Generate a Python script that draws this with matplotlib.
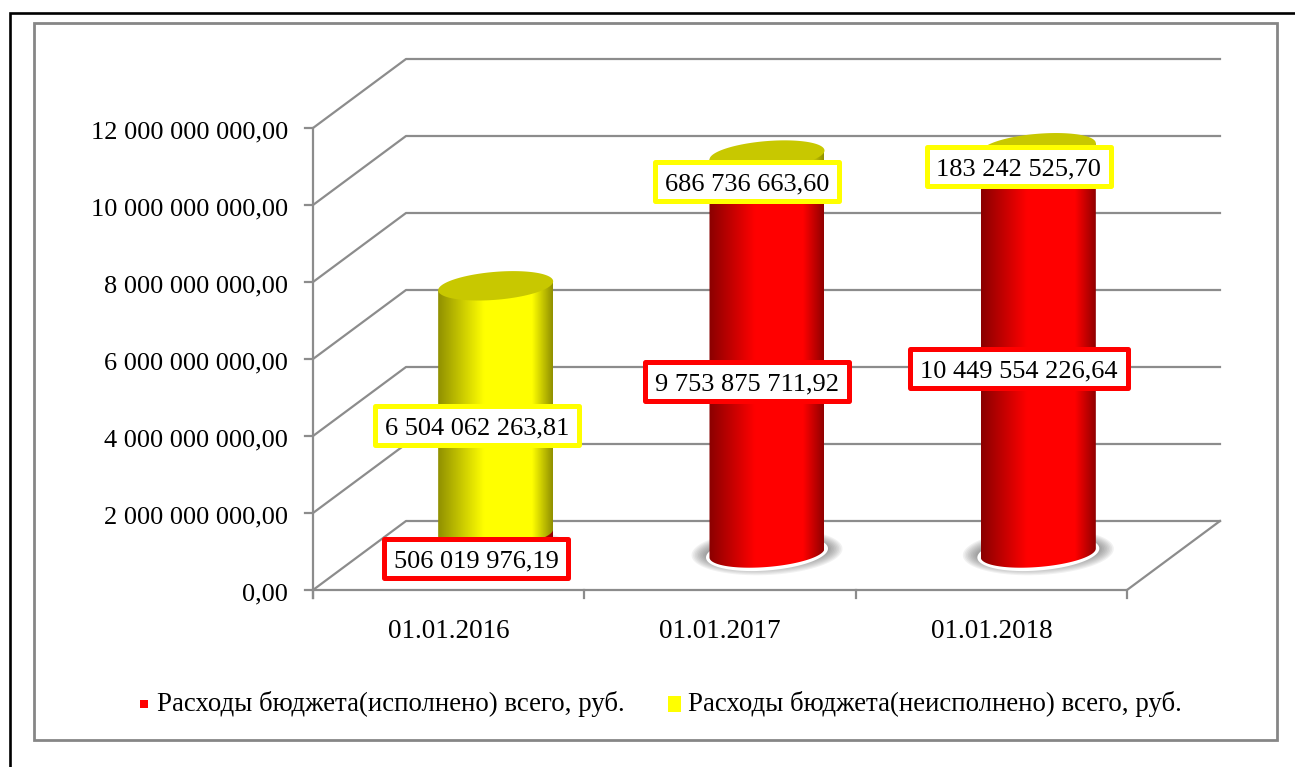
import matplotlib
matplotlib.use("Agg")
import matplotlib.pyplot as plt
import numpy as np
from matplotlib.patches import Polygon, Rectangle
from matplotlib.colors import LinearSegmentedColormap

dates = ["01.01.2016", "01.01.2017", "01.01.2018"]
spent = [506019976.19, 9753875711.92, 10449554226.64]
unspent = [6504062263.81, 686736663.60, 183242525.70]
spent_labels = ["506 019 976,19", "9 753 875 711,92", "10 449 554 226,64"]
unspent_labels = ["6 504 062 263,81", "686 736 663,60", "183 242 525,70"]
y_ticks = [0, 2e9, 4e9, 6e9, 8e9, 10e9, 12e9]
y_tick_labels = ["0,00", "2 000 000 000,00", "4 000 000 000,00", "6 000 000 000,00",
                 "8 000 000 000,00", "10 000 000 000,00", "12 000 000 000,00"]
legend_names = ["Расходы бюджета(исполнено) всего, руб.", "Расходы бюджета(неисполнено) всего, руб."]

W, H = 1295, 767
GREY = "#8c8c8c"
plt.rcParams["font.family"] = ["Liberation Serif", "DejaVu Serif"]

fig = plt.figure(figsize=(W / 100, H / 100), dpi=100)
ax = fig.add_axes([0, 0, 1, 1])

# one category = 271.33 px, 1e9 rub = 38.5 px, origin at pixel (313, 590)
px_x = 271.33
px_y = 38.5 / 1e9
ax.set_xlim(-313 / px_x, (W - 313) / px_x)
ax.set_ylim(-(H - 590) / px_y, 590 / px_y)
ax.axis("off")

def dx(p):
    return p / px_x

def dy(p):
    return p / px_y

def X(p):
    return (p - 313) / px_x

def Y(p):
    return (590 - p) / px_y

depth_x, depth_y = dx(93), dy(69)
lw = 1.6

# frames
ax.plot([X(10), X(10), X(W)], [Y(H), Y(13), Y(13)], color="black", lw=1.9, solid_joinstyle="miter", zorder=1)
ax.add_patch(Rectangle((X(34), Y(740)), dx(1243), dy(717), fc="none", ec="#868686", lw=2, zorder=1))

# walls and floor
for v in y_ticks:
    ax.plot([dx(-8), 0, depth_x, 3 + depth_x], [v, v, v + depth_y, v + depth_y], color=GREY, lw=lw, zorder=2)
ax.plot([0, 0], [dy(-8), 12e9], color=GREY, lw=lw, zorder=2)
ax.plot([0, 3, 3 + depth_x], [0, 0, depth_y], color=GREY, lw=lw, zorder=2)
for i in range(4):
    ax.plot([i, i], [dy(-8), 0], color=GREY, lw=lw, zorder=2)
for v, s in zip(y_ticks, y_tick_labels):
    ax.text(dx(-25), v - dy(4), s, ha="right", va="center", fontsize=19, color="black", zorder=6)
for i, d in enumerate(dates):
    ax.text(i + 0.5, Y(632), d, ha="center", va="center", fontsize=19.5, color="black", zorder=6)

# cylinders
red_map = LinearSegmentedColormap.from_list("r", [(0, "#8a0000"), (0.4, "#ff0000"), (0.82, "#ff0000"), (1, "#900000")])
yellow_map = LinearSegmentedColormap.from_list("y", [(0, "#909000"), (0.4, "#ffff00"), (0.82, "#ffff00"), (1, "#909000")])
grad = np.linspace(0, 1, 256).reshape(1, -1)
half_w = dx(57.5)
b = dy(14)
skew = dy(4.5)
t = np.linspace(0, 2 * np.pi, 121)
bar_scale = 0.99  # cylinders sit a bit deeper than the front axis plane

def ring(cx, cy, grow=0.0):
    return np.column_stack([cx + (half_w + dx(grow)) * np.cos(t),
                            cy + (b + dy(grow)) * np.sin(t) + skew * np.cos(t)])

def cylinder(cx, y0, y1, cmap, z):
    low = t[(t >= np.pi)]
    front = np.column_stack([cx + half_w * np.cos(low), y0 + b * np.sin(low) + skew * np.cos(low)])
    up = np.linspace(0, np.pi, 60)
    back = np.column_stack([cx + half_w * np.cos(up), y1 + skew * np.cos(up)])
    clip = Polygon(np.vstack([front, back]), closed=True, transform=ax.transData, fc="none", ec="none")
    ax.add_patch(clip)
    im = ax.imshow(grad, cmap=cmap, extent=[cx - half_w, cx + half_w, y0 - 2 * b, y1 + 2 * b],
                   aspect="auto", zorder=z, interpolation="bilinear")
    im.set_clip_path(clip)

for i in range(3):
    cx = i + 0.5 + dx(47)
    base = dy(37)
    y_split = base + spent[i] * bar_scale
    y_top = y_split + unspent[i] * bar_scale
    # soft shadow and white rim under the base
    for g in np.linspace(18, 0, 12):
        pts = ring(cx, base + dy(1), g)
        pts[:, 1] = base + dy(1) + (pts[:, 1] - base - dy(1)) * 0.72
        ax.add_patch(Polygon(pts, fc="#555555", ec="none", alpha=0.08, zorder=3))
    ax.add_patch(Polygon(ring(cx, base, 3.5), fc="white", ec="none", zorder=3.5))
    cylinder(cx, base, y_split, red_map, 4)
    cylinder(cx, y_split, y_top, yellow_map, 4.1)
    ax.add_patch(Polygon(ring(cx, y_top), fc="#c8c800", ec="none", zorder=4.2))

# data labels: centre px x, centre px y, width, height
spent_boxes = [(476, 558.5, 184, 39), (747, 382, 204, 39), (1018.5, 369, 218, 39)]
unspent_boxes = [(477, 426, 204, 39), (747, 182, 184, 39), (1018.5, 167, 184, 39)]

def value_label(box, s, color):
    cx, cy, w, h = box
    ax.add_patch(Rectangle((X(cx - w / 2), Y(cy + h / 2)), dx(w), dy(h), fc="white", ec=color,
                           lw=3.6, joinstyle="round", zorder=7))
    ax.text(X(cx), Y(cy), s, ha="center", va="center_baseline", fontsize=19, color="black", zorder=8)

for box, s in zip(spent_boxes, spent_labels):
    value_label(box, s, "#ff0000")
for box, s in zip(unspent_boxes, unspent_labels):
    value_label(box, s, "#ffff00")

# legend
ax.add_patch(Rectangle((X(140), Y(708)), dx(8), dy(8), fc="#ff0000", ec="none", zorder=6))
ax.add_patch(Rectangle((X(668), Y(712)), dx(13), dy(16), fc="#ffff00", ec="none", zorder=6))
ax.text(X(157), Y(704), legend_names[0], ha="left", va="center", fontsize=19.4, zorder=6)
ax.text(X(688), Y(704), legend_names[1], ha="left", va="center", fontsize=19.4, zorder=6)

ax.set_xlim(-313 / px_x, (W - 313) / px_x)
ax.set_ylim(-(H - 590) / px_y, 590 / px_y)
fig.savefig("out.png", dpi=100)
